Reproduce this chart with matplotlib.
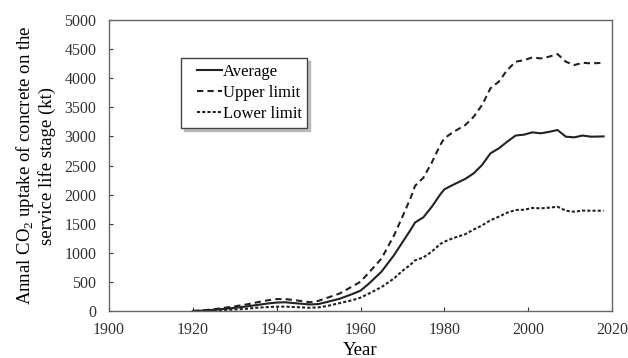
import matplotlib
matplotlib.use("Agg")
import matplotlib.pyplot as plt
from matplotlib.lines import Line2D
from matplotlib.legend_handler import HandlerLine2D

years = [1920, 1922, 1925, 1928, 1930, 1933, 1935, 1938, 1940, 1942, 1945, 1948,
         1950, 1952, 1955, 1958, 1960, 1962, 1965, 1968, 1970, 1972, 1973, 1975,
         1977, 1979, 1980, 1982, 1985, 1987, 1989, 1991, 1993, 1995, 1997, 1999,
         2001, 2003, 2005, 2007, 2009, 2011, 2013, 2015, 2018]
average = [0, 5, 20, 40, 55, 80, 100, 130, 145, 150, 130, 112,
           120, 155, 210, 290, 349, 470, 675, 960, 1180, 1400, 1520, 1610,
           1790, 2000, 2090, 2165, 2270, 2365, 2508, 2709, 2795, 2909, 3015, 3030,
           3070, 3053, 3078, 3110, 2995, 2984, 3015, 2995, 3000]
upper = [0, 8, 30, 60, 80, 115, 145, 185, 205, 205, 180, 150,
         175, 225, 300, 420, 503, 660, 900, 1300, 1620, 1950, 2150, 2290,
         2550, 2850, 2966, 3070, 3195, 3338, 3539, 3826, 3941, 4140, 4283, 4310,
         4357, 4340, 4370, 4415, 4283, 4226, 4265, 4255, 4265]
lower = [0, 2, 10, 20, 25, 40, 55, 68, 74, 75, 65, 55,
         63, 85, 135, 185, 229, 300, 410, 560, 690, 800, 870, 920,
         1020, 1150, 1190, 1250, 1320, 1400, 1470, 1560, 1620, 1690, 1735, 1740,
         1770, 1764, 1775, 1792, 1723, 1706, 1725, 1723, 1723]

plt.rcParams['font.family'] = ['Liberation Serif', 'DejaVu Serif']
plt.rcParams['mathtext.fontset'] = 'custom'
plt.rcParams['mathtext.rm'] = 'Liberation Serif'

fig = plt.figure(figsize=(6.28, 3.58), dpi=100)
ax = fig.add_axes([0.1736, 0.1313, 0.8009, 0.8128])

ax.plot(years, average, color='#222222', lw=1.5, label='Average')
ax.plot(years, upper, color='#222222', lw=1.5, linestyle=(0, (3, 2)), label='Upper limit')
ax.plot(years, lower, color='#222222', lw=1.5, linestyle=(0, (1.5, 1.0)), label='Lower limit')

ax.set_xlim(1900, 2020)
ax.set_ylim(0, 5000)
ax.set_xticks(range(1900, 2021, 20))
ax.set_yticks(range(0, 5001, 500))
ax.tick_params(direction='in', length=3, labelsize=11.5, colors='#333333')
ax.tick_params(axis='x', pad=8)
ax.tick_params(axis='y', pad=9)
for s in ax.spines.values():
    s.set_color('#666666')
    s.set_linewidth(1.0)

ax.set_xlabel('Year', fontsize=13.5, labelpad=3)
ax.set_ylabel('Annal CO$_2$ uptake of concrete on the\nservice life stage (kt)',
              fontsize=13.5, labelpad=6, linespacing=1.15)

leg = ax.legend(loc='upper left', bbox_to_anchor=(0.143, 0.869), borderaxespad=0,
                fontsize=12, handlelength=2.1, handletextpad=0.05, borderpad=0.35,
                labelspacing=0.3, fancybox=False,
                shadow={'color': '#999999', 'alpha': 0.6}, framealpha=1,
                edgecolor='#444444',
                handler_map={Line2D: HandlerLine2D(xpad=0.6)})
leg.get_frame().set_linewidth(1.0)

fig.savefig('out.png', dpi=100)
